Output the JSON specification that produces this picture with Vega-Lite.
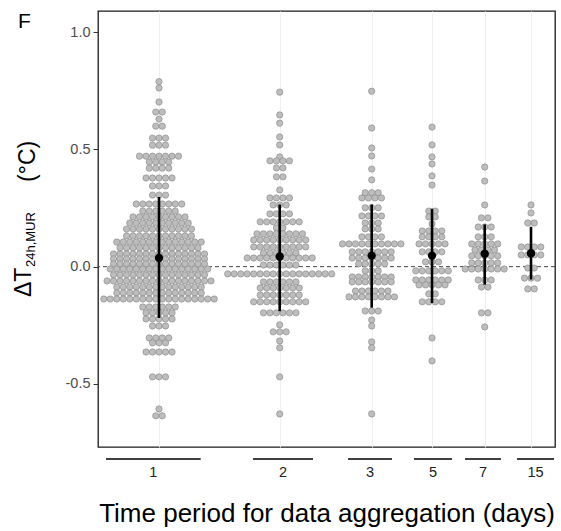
{
"$schema":"https://vega.github.io/schema/vega-lite/v6.json",
"width":457,"height":436,
"autosize":{"type":"none"},
"padding":{"left":98,"top":11,"right":6,"bottom":84},
"background":"white",
"config":{"font":"Liberation Sans","view":{"stroke":"#1a1a1a","strokeWidth":1.3}},
"datasets":{
"grp":[
{"g":1,"pos":1.335,"lo":0.175,"hi":2.247,"m":0.037,"elo":-0.219,"ehi":0.297,"lab":"1"},
{"g":2,"pos":3.976,"lo":3.392,"hi":4.705,"m":0.043,"elo":-0.19,"ehi":0.265,"lab":"2"},
{"g":3,"pos":5.989,"lo":5.47,"hi":6.433,"m":0.047,"elo":-0.175,"ehi":0.265,"lab":"3"},
{"g":5,"pos":7.309,"lo":6.915,"hi":7.746,"m":0.047,"elo":-0.155,"ehi":0.247,"lab":"5"},
{"g":7,"pos":8.462,"lo":8.031,"hi":8.818,"m":0.055,"elo":-0.077,"ehi":0.18,"lab":"7"},
{"g":15,"pos":9.475,"lo":9.168,"hi":9.978,"m":0.057,"elo":-0.055,"ehi":0.17,"lab":"15"}
],
"pts":[
{"g":1,"v":0.789},{"g":1,"v":0.762},{"g":1,"v":0.702},
{"g":1,"v":0.659},{"g":1,"v":0.659},{"g":1,"v":0.629},{"g":1,"v":0.599},{"g":1,"v":0.599},
{"g":1,"v":0.548},{"g":1,"v":0.548},{"g":1,"v":0.548},
{"g":1,"v":0.518},{"g":1,"v":0.518},{"g":1,"v":0.518},
{"g":1,"v":0.471},{"g":1,"v":0.471},{"g":1,"v":0.471},{"g":1,"v":0.471},{"g":1,"v":0.471},{"g":1,"v":0.471},{"g":1,"v":0.471},
{"g":1,"v":0.446},{"g":1,"v":0.446},{"g":1,"v":0.446},{"g":1,"v":0.446},
{"g":1,"v":0.42},{"g":1,"v":0.42},{"g":1,"v":0.42},{"g":1,"v":0.42},
{"g":1,"v":0.378},{"g":1,"v":0.378},{"g":1,"v":0.378},{"g":1,"v":0.378},{"g":1,"v":0.378},
{"g":1,"v":0.344},{"g":1,"v":0.344},{"g":1,"v":0.344},
{"g":1,"v":0.305},{"g":1,"v":0.305},{"g":1,"v":0.305},
{"g":1,"v":0.267},{"g":1,"v":0.267},{"g":1,"v":0.267},{"g":1,"v":0.267},{"g":1,"v":0.267},{"g":1,"v":0.267},{"g":1,"v":0.267},{"g":1,"v":0.267},
{"g":1,"v":0.237},{"g":1,"v":0.237},{"g":1,"v":0.237},{"g":1,"v":0.237},{"g":1,"v":0.237},{"g":1,"v":0.237},
{"g":1,"v":0.212},{"g":1,"v":0.212},{"g":1,"v":0.212},{"g":1,"v":0.212},{"g":1,"v":0.212},{"g":1,"v":0.212},{"g":1,"v":0.212},{"g":1,"v":0.212},{"g":1,"v":0.212},
{"g":1,"v":0.186},{"g":1,"v":0.186},{"g":1,"v":0.186},{"g":1,"v":0.186},{"g":1,"v":0.186},{"g":1,"v":0.186},{"g":1,"v":0.186},{"g":1,"v":0.186},{"g":1,"v":0.186},{"g":1,"v":0.186},
{"g":1,"v":0.16},{"g":1,"v":0.16},{"g":1,"v":0.16},{"g":1,"v":0.16},{"g":1,"v":0.16},{"g":1,"v":0.16},{"g":1,"v":0.16},{"g":1,"v":0.16},{"g":1,"v":0.16},{"g":1,"v":0.16},{"g":1,"v":0.16},
{"g":1,"v":0.131},{"g":1,"v":0.131},{"g":1,"v":0.131},{"g":1,"v":0.131},{"g":1,"v":0.131},{"g":1,"v":0.131},{"g":1,"v":0.131},{"g":1,"v":0.131},{"g":1,"v":0.131},{"g":1,"v":0.131},{"g":1,"v":0.131},
{"g":1,"v":0.105},{"g":1,"v":0.105},{"g":1,"v":0.105},{"g":1,"v":0.105},{"g":1,"v":0.105},{"g":1,"v":0.105},{"g":1,"v":0.105},{"g":1,"v":0.105},{"g":1,"v":0.105},{"g":1,"v":0.105},{"g":1,"v":0.105},{"g":1,"v":0.105},{"g":1,"v":0.105},{"g":1,"v":0.105},
{"g":1,"v":0.08},{"g":1,"v":0.08},{"g":1,"v":0.08},{"g":1,"v":0.08},{"g":1,"v":0.08},{"g":1,"v":0.08},{"g":1,"v":0.08},{"g":1,"v":0.08},{"g":1,"v":0.08},{"g":1,"v":0.08},{"g":1,"v":0.08},{"g":1,"v":0.08},{"g":1,"v":0.08},
{"g":1,"v":0.054},{"g":1,"v":0.054},{"g":1,"v":0.054},{"g":1,"v":0.054},{"g":1,"v":0.054},{"g":1,"v":0.054},{"g":1,"v":0.054},{"g":1,"v":0.054},{"g":1,"v":0.054},{"g":1,"v":0.054},{"g":1,"v":0.054},{"g":1,"v":0.054},{"g":1,"v":0.054},{"g":1,"v":0.054},{"g":1,"v":0.054},
{"g":1,"v":0.033},{"g":1,"v":0.033},{"g":1,"v":0.033},{"g":1,"v":0.033},{"g":1,"v":0.033},{"g":1,"v":0.033},{"g":1,"v":0.033},{"g":1,"v":0.033},{"g":1,"v":0.033},{"g":1,"v":0.033},{"g":1,"v":0.033},{"g":1,"v":0.033},{"g":1,"v":0.033},{"g":1,"v":0.033},{"g":1,"v":0.033},
{"g":1,"v":0.012},{"g":1,"v":0.012},{"g":1,"v":0.012},{"g":1,"v":0.012},{"g":1,"v":0.012},{"g":1,"v":0.012},{"g":1,"v":0.012},{"g":1,"v":0.012},{"g":1,"v":0.012},{"g":1,"v":0.012},{"g":1,"v":0.012},{"g":1,"v":0.012},{"g":1,"v":0.012},{"g":1,"v":0.012},{"g":1,"v":0.012},
{"g":1,"v":-0.01},{"g":1,"v":-0.01},{"g":1,"v":-0.01},{"g":1,"v":-0.01},{"g":1,"v":-0.01},{"g":1,"v":-0.01},{"g":1,"v":-0.01},{"g":1,"v":-0.01},{"g":1,"v":-0.01},{"g":1,"v":-0.01},{"g":1,"v":-0.01},{"g":1,"v":-0.01},{"g":1,"v":-0.01},{"g":1,"v":-0.01},{"g":1,"v":-0.01},{"g":1,"v":-0.01},
{"g":1,"v":-0.035},{"g":1,"v":-0.035},{"g":1,"v":-0.035},{"g":1,"v":-0.035},{"g":1,"v":-0.035},{"g":1,"v":-0.035},{"g":1,"v":-0.035},{"g":1,"v":-0.035},{"g":1,"v":-0.035},{"g":1,"v":-0.035},{"g":1,"v":-0.035},{"g":1,"v":-0.035},{"g":1,"v":-0.035},{"g":1,"v":-0.035},{"g":1,"v":-0.035},
{"g":1,"v":-0.061},{"g":1,"v":-0.061},{"g":1,"v":-0.061},{"g":1,"v":-0.061},{"g":1,"v":-0.061},{"g":1,"v":-0.061},{"g":1,"v":-0.061},{"g":1,"v":-0.061},{"g":1,"v":-0.061},{"g":1,"v":-0.061},{"g":1,"v":-0.061},{"g":1,"v":-0.061},{"g":1,"v":-0.061},{"g":1,"v":-0.061},{"g":1,"v":-0.061},{"g":1,"v":-0.061},{"g":1,"v":-0.061},
{"g":1,"v":-0.087},{"g":1,"v":-0.087},{"g":1,"v":-0.087},{"g":1,"v":-0.087},{"g":1,"v":-0.087},{"g":1,"v":-0.087},{"g":1,"v":-0.087},{"g":1,"v":-0.087},{"g":1,"v":-0.087},{"g":1,"v":-0.087},{"g":1,"v":-0.087},{"g":1,"v":-0.087},{"g":1,"v":-0.087},{"g":1,"v":-0.087},
{"g":1,"v":-0.112},{"g":1,"v":-0.112},{"g":1,"v":-0.112},{"g":1,"v":-0.112},{"g":1,"v":-0.112},{"g":1,"v":-0.112},{"g":1,"v":-0.112},{"g":1,"v":-0.112},{"g":1,"v":-0.112},{"g":1,"v":-0.112},{"g":1,"v":-0.112},{"g":1,"v":-0.112},{"g":1,"v":-0.112},{"g":1,"v":-0.112},
{"g":1,"v":-0.138},{"g":1,"v":-0.138},{"g":1,"v":-0.138},{"g":1,"v":-0.138},{"g":1,"v":-0.138},{"g":1,"v":-0.138},{"g":1,"v":-0.138},{"g":1,"v":-0.138},{"g":1,"v":-0.138},{"g":1,"v":-0.138},{"g":1,"v":-0.138},{"g":1,"v":-0.138},{"g":1,"v":-0.138},{"g":1,"v":-0.138},{"g":1,"v":-0.138},{"g":1,"v":-0.138},{"g":1,"v":-0.138},{"g":1,"v":-0.138},
{"g":1,"v":-0.172},{"g":1,"v":-0.172},{"g":1,"v":-0.172},{"g":1,"v":-0.172},{"g":1,"v":-0.172},{"g":1,"v":-0.172},
{"g":1,"v":-0.197},{"g":1,"v":-0.197},{"g":1,"v":-0.197},{"g":1,"v":-0.197},{"g":1,"v":-0.197},
{"g":1,"v":-0.223},{"g":1,"v":-0.223},{"g":1,"v":-0.223},{"g":1,"v":-0.223},{"g":1,"v":-0.223},
{"g":1,"v":-0.253},{"g":1,"v":-0.253},{"g":1,"v":-0.253},
{"g":1,"v":-0.304},{"g":1,"v":-0.304},{"g":1,"v":-0.304},{"g":1,"v":-0.304},
{"g":1,"v":-0.325},{"g":1,"v":-0.325},{"g":1,"v":-0.325},
{"g":1,"v":-0.364},{"g":1,"v":-0.364},{"g":1,"v":-0.364},{"g":1,"v":-0.364},{"g":1,"v":-0.364},
{"g":1,"v":-0.47},{"g":1,"v":-0.47},{"g":1,"v":-0.47},
{"g":1,"v":-0.607},{"g":1,"v":-0.636},{"g":1,"v":-0.636},
{"g":2,"v":0.744},{"g":2,"v":0.647},{"g":2,"v":0.612},{"g":2,"v":0.553},{"g":2,"v":0.519},{"g":2,"v":0.468},
{"g":2,"v":0.451},{"g":2,"v":0.451},{"g":2,"v":0.451},{"g":2,"v":0.451},
{"g":2,"v":0.421},{"g":2,"v":0.421},{"g":2,"v":0.383},{"g":2,"v":0.383},{"g":2,"v":0.327},
{"g":2,"v":0.293},{"g":2,"v":0.293},{"g":2,"v":0.293},{"g":2,"v":0.293},
{"g":2,"v":0.263},{"g":2,"v":0.263},{"g":2,"v":0.263},
{"g":2,"v":0.225},{"g":2,"v":0.225},{"g":2,"v":0.225},{"g":2,"v":0.225},
{"g":2,"v":0.191},{"g":2,"v":0.191},{"g":2,"v":0.191},{"g":2,"v":0.191},{"g":2,"v":0.191},{"g":2,"v":0.191},{"g":2,"v":0.191},
{"g":2,"v":0.165},{"g":2,"v":0.165},
{"g":2,"v":0.14},{"g":2,"v":0.14},{"g":2,"v":0.14},{"g":2,"v":0.14},{"g":2,"v":0.14},{"g":2,"v":0.14},{"g":2,"v":0.14},{"g":2,"v":0.14},
{"g":2,"v":0.114},{"g":2,"v":0.114},{"g":2,"v":0.114},{"g":2,"v":0.114},{"g":2,"v":0.114},{"g":2,"v":0.114},{"g":2,"v":0.114},{"g":2,"v":0.114},{"g":2,"v":0.114},
{"g":2,"v":0.084},{"g":2,"v":0.084},{"g":2,"v":0.084},{"g":2,"v":0.084},{"g":2,"v":0.084},{"g":2,"v":0.084},{"g":2,"v":0.084},{"g":2,"v":0.084},{"g":2,"v":0.084},
{"g":2,"v":0.058},{"g":2,"v":0.058},{"g":2,"v":0.058},{"g":2,"v":0.058},{"g":2,"v":0.058},{"g":2,"v":0.058},
{"g":2,"v":0.037},{"g":2,"v":0.037},{"g":2,"v":0.037},{"g":2,"v":0.037},{"g":2,"v":0.037},{"g":2,"v":0.037},{"g":2,"v":0.037},{"g":2,"v":0.037},{"g":2,"v":0.037},{"g":2,"v":0.037},{"g":2,"v":0.037},
{"g":2,"v":0.007},{"g":2,"v":0.007},{"g":2,"v":0.007},{"g":2,"v":0.007},{"g":2,"v":0.007},{"g":2,"v":0.007},
{"g":2,"v":-0.031},{"g":2,"v":-0.031},{"g":2,"v":-0.031},{"g":2,"v":-0.031},{"g":2,"v":-0.031},{"g":2,"v":-0.031},{"g":2,"v":-0.031},{"g":2,"v":-0.031},{"g":2,"v":-0.031},{"g":2,"v":-0.031},{"g":2,"v":-0.031},{"g":2,"v":-0.031},{"g":2,"v":-0.031},{"g":2,"v":-0.031},{"g":2,"v":-0.031},{"g":2,"v":-0.031},{"g":2,"v":-0.031},
{"g":2,"v":-0.065},{"g":2,"v":-0.065},{"g":2,"v":-0.065},{"g":2,"v":-0.065},{"g":2,"v":-0.065},{"g":2,"v":-0.065},
{"g":2,"v":-0.091},{"g":2,"v":-0.091},{"g":2,"v":-0.091},{"g":2,"v":-0.091},{"g":2,"v":-0.091},{"g":2,"v":-0.091},{"g":2,"v":-0.091},
{"g":2,"v":-0.121},{"g":2,"v":-0.121},{"g":2,"v":-0.121},{"g":2,"v":-0.121},{"g":2,"v":-0.121},{"g":2,"v":-0.121},{"g":2,"v":-0.121},
{"g":2,"v":-0.15},{"g":2,"v":-0.15},{"g":2,"v":-0.15},{"g":2,"v":-0.15},{"g":2,"v":-0.15},{"g":2,"v":-0.15},{"g":2,"v":-0.15},{"g":2,"v":-0.15},{"g":2,"v":-0.15},
{"g":2,"v":-0.197},{"g":2,"v":-0.197},{"g":2,"v":-0.197},{"g":2,"v":-0.197},{"g":2,"v":-0.197},{"g":2,"v":-0.197},
{"g":2,"v":-0.248},{"g":2,"v":-0.278},{"g":2,"v":-0.278},{"g":2,"v":-0.278},{"g":2,"v":-0.317},{"g":2,"v":-0.346},{"g":2,"v":-0.47},{"g":2,"v":-0.628},
{"g":3,"v":0.748},{"g":3,"v":0.591},{"g":3,"v":0.506},{"g":3,"v":0.472},{"g":3,"v":0.416},{"g":3,"v":0.37},
{"g":3,"v":0.315},{"g":3,"v":0.315},{"g":3,"v":0.315},
{"g":3,"v":0.293},{"g":3,"v":0.293},{"g":3,"v":0.293},{"g":3,"v":0.293},
{"g":3,"v":0.251},{"g":3,"v":0.251},{"g":3,"v":0.251},
{"g":3,"v":0.216},{"g":3,"v":0.216},{"g":3,"v":0.216},{"g":3,"v":0.216},
{"g":3,"v":0.186},{"g":3,"v":0.186},{"g":3,"v":0.186},
{"g":3,"v":0.161},{"g":3,"v":0.161},{"g":3,"v":0.161},
{"g":3,"v":0.127},{"g":3,"v":0.127},{"g":3,"v":0.127},{"g":3,"v":0.127},
{"g":3,"v":0.097},{"g":3,"v":0.097},{"g":3,"v":0.097},{"g":3,"v":0.097},{"g":3,"v":0.097},{"g":3,"v":0.097},{"g":3,"v":0.097},{"g":3,"v":0.097},{"g":3,"v":0.097},{"g":3,"v":0.097},
{"g":3,"v":0.063},{"g":3,"v":0.063},{"g":3,"v":0.063},{"g":3,"v":0.063},{"g":3,"v":0.063},{"g":3,"v":0.063},{"g":3,"v":0.063},
{"g":3,"v":0.037},{"g":3,"v":0.037},{"g":3,"v":0.037},{"g":3,"v":0.037},{"g":3,"v":0.037},{"g":3,"v":0.037},{"g":3,"v":0.037},
{"g":3,"v":0.012},{"g":3,"v":0.012},{"g":3,"v":0.012},{"g":3,"v":0.012},{"g":3,"v":0.012},
{"g":3,"v":-0.018},{"g":3,"v":-0.018},{"g":3,"v":-0.018},
{"g":3,"v":-0.044},{"g":3,"v":-0.044},{"g":3,"v":-0.044},{"g":3,"v":-0.044},{"g":3,"v":-0.044},{"g":3,"v":-0.044},{"g":3,"v":-0.044},
{"g":3,"v":-0.065},{"g":3,"v":-0.065},{"g":3,"v":-0.065},{"g":3,"v":-0.065},{"g":3,"v":-0.065},{"g":3,"v":-0.065},{"g":3,"v":-0.065},
{"g":3,"v":-0.104},{"g":3,"v":-0.104},{"g":3,"v":-0.104},{"g":3,"v":-0.104},{"g":3,"v":-0.104},{"g":3,"v":-0.104},
{"g":3,"v":-0.129},{"g":3,"v":-0.129},{"g":3,"v":-0.129},{"g":3,"v":-0.129},{"g":3,"v":-0.129},{"g":3,"v":-0.129},{"g":3,"v":-0.129},{"g":3,"v":-0.129},
{"g":3,"v":-0.189},{"g":3,"v":-0.189},{"g":3,"v":-0.189},
{"g":3,"v":-0.227},{"g":3,"v":-0.253},{"g":3,"v":-0.321},{"g":3,"v":-0.346},{"g":3,"v":-0.628},
{"g":5,"v":0.595},{"g":5,"v":0.519},{"g":5,"v":0.468},{"g":5,"v":0.438},{"g":5,"v":0.387},{"g":5,"v":0.348},
{"g":5,"v":0.237},{"g":5,"v":0.237},{"g":5,"v":0.212},{"g":5,"v":0.212},{"g":5,"v":0.182},
{"g":5,"v":0.152},{"g":5,"v":0.152},{"g":5,"v":0.152},{"g":5,"v":0.152},
{"g":5,"v":0.127},{"g":5,"v":0.127},{"g":5,"v":0.127},{"g":5,"v":0.127},
{"g":5,"v":0.097},{"g":5,"v":0.097},{"g":5,"v":0.097},{"g":5,"v":0.097},{"g":5,"v":0.097},
{"g":5,"v":0.063},{"g":5,"v":0.063},{"g":5,"v":0.063},{"g":5,"v":0.063},
{"g":5,"v":0.02},{"g":5,"v":0.02},{"g":5,"v":0.02},
{"g":5,"v":-0.018},{"g":5,"v":-0.018},{"g":5,"v":-0.018},{"g":5,"v":-0.018},{"g":5,"v":-0.018},{"g":5,"v":-0.018},
{"g":5,"v":-0.057},{"g":5,"v":-0.057},{"g":5,"v":-0.057},{"g":5,"v":-0.057},{"g":5,"v":-0.057},{"g":5,"v":-0.057},
{"g":5,"v":-0.078},{"g":5,"v":-0.078},{"g":5,"v":-0.078},{"g":5,"v":-0.078},{"g":5,"v":-0.078},
{"g":5,"v":-0.116},{"g":5,"v":-0.116},
{"g":5,"v":-0.15},{"g":5,"v":-0.15},{"g":5,"v":-0.15},{"g":5,"v":-0.15},
{"g":5,"v":-0.304},{"g":5,"v":-0.402},
{"g":7,"v":0.425},{"g":7,"v":0.365},{"g":7,"v":0.263},
{"g":7,"v":0.208},{"g":7,"v":0.208},
{"g":7,"v":0.169},{"g":7,"v":0.169},{"g":7,"v":0.169},
{"g":7,"v":0.127},{"g":7,"v":0.127},{"g":7,"v":0.127},
{"g":7,"v":0.097},{"g":7,"v":0.097},{"g":7,"v":0.097},{"g":7,"v":0.097},{"g":7,"v":0.097},
{"g":7,"v":0.071},{"g":7,"v":0.071},{"g":7,"v":0.071},{"g":7,"v":0.071},
{"g":7,"v":0.046},{"g":7,"v":0.046},{"g":7,"v":0.046},{"g":7,"v":0.046},{"g":7,"v":0.046},
{"g":7,"v":0.016},{"g":7,"v":0.016},{"g":7,"v":0.016},{"g":7,"v":0.016},{"g":7,"v":0.016},
{"g":7,"v":-0.01},{"g":7,"v":-0.01},{"g":7,"v":-0.01},{"g":7,"v":-0.01},{"g":7,"v":-0.01},{"g":7,"v":-0.01},{"g":7,"v":-0.01},
{"g":7,"v":-0.057},{"g":7,"v":-0.057},{"g":7,"v":-0.057},
{"g":7,"v":-0.087},{"g":7,"v":-0.087},
{"g":7,"v":-0.197},{"g":7,"v":-0.197},{"g":7,"v":-0.257},
{"g":15,"v":0.263},{"g":15,"v":0.229},{"g":15,"v":0.186},{"g":15,"v":0.186},
{"g":15,"v":0.084},{"g":15,"v":0.084},{"g":15,"v":0.084},{"g":15,"v":0.084},
{"g":15,"v":0.05},{"g":15,"v":0.05},{"g":15,"v":0.05},{"g":15,"v":0.05},
{"g":15,"v":-0.006},{"g":15,"v":-0.006},
{"g":15,"v":-0.049},{"g":15,"v":-0.049},{"g":15,"v":-0.049},
{"g":15,"v":-0.095},{"g":15,"v":-0.095}
]
},
"layer":[
{
"data":{"values":[{}]},
"mark":{"type":"rule","color":"#444444","strokeDash":[4,3],"strokeWidth":1},
"encoding":{"y":{"datum":0,"type":"quantitative","scale":{"domain":[-0.769,1.09],"nice":false,"zero":false}}}
},
{
"data":{"name":"pts"},
"transform":[
{"lookup":"g","from":{"data":{"name":"grp"},"key":"g","fields":["pos"]}},
{"window":[{"op":"row_number","as":"rk"}],"groupby":["g","v"]},
{"joinaggregate":[{"op":"count","as":"n"}],"groupby":["g","v"]},
{"calculate":"datum.pos + (datum.rk - (datum.n + 1) / 2) * 0.1422","as":"xo"}
],
"mark":{"type":"point","shape":"circle","filled":true,"fill":"#bdbdbd","stroke":"#858585","strokeWidth":0.6,"opacity":1,"size":40},
"encoding":{
"x":{"field":"xo","type":"quantitative","scale":{"domain":[0,10],"nice":false,"zero":false},
"axis":{"values":[1.335,3.976,5.989,7.309,8.462,9.475],"labels":false,"ticks":false,"domain":false,"grid":true,"gridColor":"#efefef","gridWidth":1,
"title":"Time period for data aggregation (days)","titleFont":"Liberation Sans","titleFontSize":26,"titleFontWeight":"normal","titleColor":"#000000","titlePadding":53}},
"y":{"field":"v","type":"quantitative","scale":{"domain":[-0.769,1.09],"nice":false,"zero":false},
"axis":{"values":[-0.75,-0.5,-0.25,0,0.25,0.5,0.75,1],"title":null,"domain":false,
"labelExpr":"datum.value==1?'1.0':datum.value==0.5?'0.5':datum.value==0?'0.0':datum.value==-0.5?'-0.5':''",
"tickOpacity":{"condition":{"test":"datum.value==1||datum.value==0.5||datum.value==0||datum.value==-0.5","value":1},"value":0},
"gridColor":{"condition":{"test":"datum.value==1||datum.value==0.5||datum.value==0||datum.value==-0.5","value":"#ebebeb"},"value":"#f5f5f5"},
"tickSize":5,"tickColor":"#333333","labelColor":"#4d4d4d","labelFontSize":14.5,"labelFont":"Liberation Sans","labelPadding":3}}
}
},
{
"data":{"name":"grp"},
"mark":{"type":"rule","color":"#000000","strokeWidth":2.6},
"encoding":{
"x":{"field":"pos","type":"quantitative"},
"y":{"field":"elo","type":"quantitative"},
"y2":{"field":"ehi"}
}
},
{
"data":{"name":"grp"},
"mark":{"type":"point","shape":"circle","filled":true,"color":"#000000","opacity":1,"size":70},
"encoding":{
"x":{"field":"pos","type":"quantitative"},
"y":{"field":"m","type":"quantitative"}
}
},
{
"data":{"name":"grp"},
"mark":{"type":"rule","color":"#000000","strokeWidth":1.5,"clip":false},
"encoding":{
"x":{"field":"lo","type":"quantitative"},
"x2":{"field":"hi"},
"y":{"datum":-0.82,"type":"quantitative"}
}
},
{
"data":{"name":"grp"},
"transform":[{"calculate":"(datum.lo + datum.hi) / 2","as":"mid"}],
"mark":{"type":"text","fontSize":14.5,"color":"#222222","baseline":"middle","align":"center","clip":false,"font":"Liberation Sans"},
"encoding":{
"x":{"field":"mid","type":"quantitative"},
"y":{"datum":-0.88,"type":"quantitative"},
"text":{"field":"lab"}
}
},
{
"data":{"values":[{}]},
"mark":{"type":"text","text":"F","fontSize":21,"color":"#000000","align":"left","baseline":"alphabetic","clip":false,"font":"Liberation Sans"},
"encoding":{"x":{"datum":-1.751,"type":"quantitative"},"y":{"datum":1.0175,"type":"quantitative"}}
},
{
"data":{"values":[{}]},
"mark":{"type":"text","text":"ΔT","fontSize":23,"angle":270,"color":"#000000","align":"left","baseline":"alphabetic","clip":false,"font":"Liberation Sans"},
"encoding":{"x":{"datum":-1.466,"type":"quantitative"},"y":{"datum":-0.1295,"type":"quantitative"}}
},
{
"data":{"values":[{}]},
"mark":{"type":"text","text":"24h,MUR","fontSize":13,"angle":270,"color":"#000000","align":"left","baseline":"alphabetic","clip":false,"font":"Liberation Sans"},
"encoding":{"x":{"datum":-1.389,"type":"quantitative"},"y":{"datum":-0.0016,"type":"quantitative"}}
},
{
"data":{"values":[{}]},
"mark":{"type":"text","text":"(°C)","fontSize":23,"angle":270,"color":"#000000","align":"left","baseline":"alphabetic","clip":false,"font":"Liberation Sans"},
"encoding":{"x":{"datum":-1.379,"type":"quantitative"},"y":{"datum":0.361,"type":"quantitative"}}
}
]
}
